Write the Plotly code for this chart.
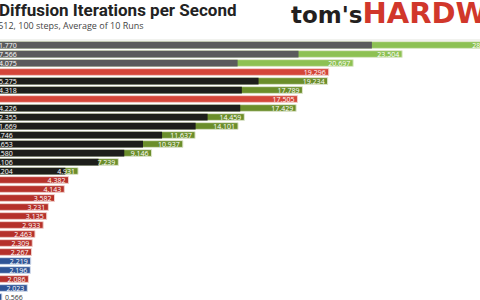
import plotly.graph_objects as go

rows = [f"R{i+1}" for i in range(29)]
totals = [28.94, 23.504, 20.697, 19.296, 19.234, 17.789, 17.505, 17.429, 14.459, 14.101,
          11.637, 10.937, 9.146, 7.239, 4.931, 4.382, 4.143, 3.582, 3.231, 3.135,
          2.933, 2.463, 2.309, 2.267, 2.219, 2.196, 2.086, 2.023, 0.566]
parts = [21.770, 17.566, 14.075, None, 15.275, 14.318, None, 14.226, 12.355, 11.669,
         9.746, 8.653, 7.580, 6.106, 4.204] + [None] * 14
groups = ["lg", "lg", "lg", "r", "o", "o", "r", "o", "o", "o", "o", "o", "o", "o", "o",
          "dr", "dr", "dr", "dr", "dr", "dr", "dr", "dr", "dr", "b", "b", "dr", "b", "b"]

fill = {"lg": "#8dc153", "r": "#d4463a", "o": "#6b8e2b", "dr": "#b5312b", "b": "#2f5496"}
edge = {"lg": "#dfe9cc", "r": "#f2d2cc", "o": "#dfe6cf", "dr": "#f0d0cc", "b": "#d3dcec"}

tot_text = [f"{v:.3f}" for v in totals]
tot_pos = ["inside"] * 28 + ["outside"]
part_text = [f"{v:.3f}" if v is not None else "" for v in parts]
part_col = ["#5b5b5d" if i < 3 else "#1d1e1b" for i in range(29)]

fig = go.Figure()
fig.add_trace(go.Bar(
    y=rows, x=totals, orientation="h",
    marker=dict(color=[fill[g] for g in groups],
                line=dict(color=[edge[g] for g in groups], width=1)),
    hoverinfo="skip"))
fig.add_trace(go.Bar(
    y=rows, x=parts, orientation="h",
    marker=dict(color=part_col, line=dict(width=0)),
    text=part_text, textposition="inside", insidetextanchor="start",
    insidetextfont=dict(color="white", size=7, family="Open Sans"),
    hoverinfo="skip"))
fig.add_trace(go.Bar(
    y=rows, x=totals, orientation="h",
    marker=dict(color="rgba(0,0,0,0)", line=dict(width=0)),
    text=tot_text, textposition=tot_pos, insidetextanchor="end",
    insidetextfont=dict(color="white", size=7, family="Open Sans"),
    outsidetextfont=dict(color="#333333", size=7, family="Open Sans"),
    hoverinfo="skip"))

W, H, T = 480, 300, 40
def px(x):
    return x / W
def py(y):
    return (H - y) / (H - T)

fig.update_layout(
    width=W, height=H, margin=dict(l=0, r=0, t=T, b=0),
    paper_bgcolor="white", plot_bgcolor="white",
    barmode="overlay", bargap=0.25, showlegend=False,
    uniformtext=dict(minsize=7, mode="show"),
    xaxis=dict(range=[8 / 17.45, 488 / 17.45], visible=False),
    yaxis=dict(range=[-0.556 + 260 / 9, -0.556], visible=False, type="category"),
    shapes=[dict(type="line", xref="paper", yref="paper", x0=0, x1=1, y0=1.0, y1=1.0,
                 line=dict(color="#e2e4dc", width=1))],
    annotations=[
        dict(text="<b>Diffusion Iterations per Second</b>", x=px(-3), y=py(10),
             xref="paper", yref="paper", xanchor="left", yanchor="middle",
             showarrow=False, font=dict(family="Roboto", size=17, color="#222222")),
        dict(text="512x512, 100 steps, Average of 10 Runs", x=px(-24), y=py(26),
             xref="paper", yref="paper", xanchor="left", yanchor="middle",
             showarrow=False, font=dict(family="Open Sans", size=9, color="#444444")),
        dict(text="<b><span style='font-size:23px'>tom's</span>"
                  "<span style='color:#d1372b;font-size:29px'>HARDWARE</span></b>",
             x=px(289), y=py(13),
             xref="paper", yref="paper", xanchor="left", yanchor="middle",
             showarrow=False, font=dict(family="DejaVu Sans", size=25, color="#231f20")),
    ],
)
fig.write_html("out.html")
